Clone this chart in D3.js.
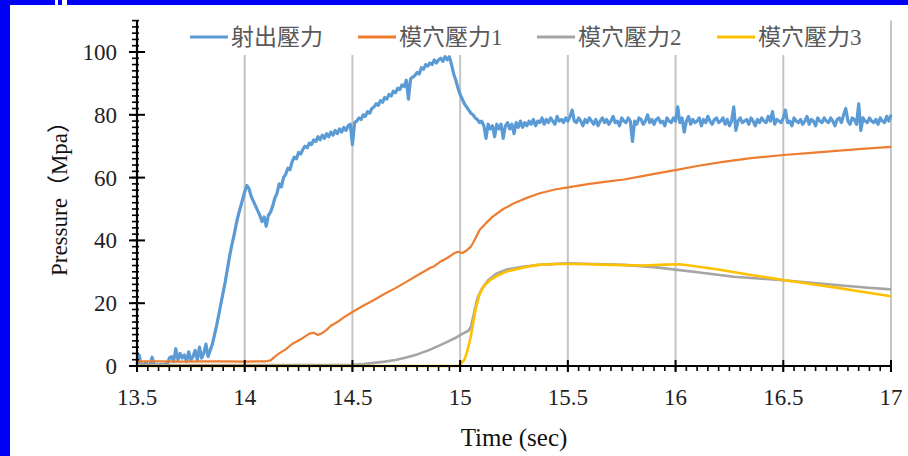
<!DOCTYPE html>
<html>
<head>
<meta charset="utf-8">
<script src="https://cdn.jsdelivr.net/npm/d3@7"></script>
<style>
  html, body { margin: 0; padding: 0; background: #fff; }
  svg { display: block; }
</style>
</head>
<body>
<div id="chart"></div>
<script>
const width = 908;
const height = 456;

// Series names (legend order)
const seriesNames = ["射出壓力", "模穴壓力1", "模穴壓力2", "模穴壓力3"];
const seriesColors = ["#5B9BD5", "#ED7D31", "#A5A5A5", "#FFC000"];

// Injection pressure, sampled every 0.01 s from 13.5 s
const blueStart = 13.5;
const blueStep = 0.01;
const blueValues = [
  0.5, 3.5, 0.3, 0.2, 1.2, 0.3, 0.2, 2.8, 0.3, 0.4,       // 13.50
  0.3, 0.5, 0.3, 0.6, 0.4, 2.5, 3, 1.5, 5.5, 2,           // 13.60
  4, 2.5, 3.5, 1.5, 4.5, 2, 3, 5, 2, 6,                   // 13.70
  2.5, 4, 7, 3, 5, 7, 10, 13, 16.5, 20,                   // 13.80
  23.5, 27, 31, 35, 38.5, 41.5, 45, 48, 50.5, 53,         // 13.90
  55.5, 57.5, 56.5, 54, 52.5, 51, 49.5, 48, 46, 47.5,     // 14.00
  44.5, 48, 49, 51, 53.5, 55, 58, 57, 60, 61,             // 14.10
  63, 62.5, 65, 66.5, 66, 68, 67.5, 69, 70, 69.5,         // 14.20
  71, 70.5, 72, 71.5, 73, 72, 73.5, 72.5, 74, 73,         // 14.30
  74.5, 73.5, 75, 74, 75.5, 74.5, 76, 75, 76.5, 77,       // 14.40
  70.5, 77.5, 78, 79, 78.5, 80, 79.5, 81, 80.5, 82,       // 14.50
  82.5, 83.5, 83, 84.5, 84, 85.5, 85, 86.5, 86, 87.5,     // 14.60
  87, 88.5, 88, 89.5, 89, 91, 85, 91.5, 92, 92.5,         // 14.70
  93.5, 93, 95, 94.5, 96, 95.5, 96.5, 96, 97.5, 96.5,     // 14.80
  97.5, 98, 97, 98.5, 97.5, 98.5, 96, 93, 91, 88.5,       // 14.90
  86.5, 85, 83.5, 82.5, 81.5, 80.5, 80, 79, 78.5, 77.5,   // 15.00
  78, 76.5, 72.5, 77, 75.5, 76.5, 73, 77, 75.5, 77,       // 15.10
  72.5, 76.5, 77.5, 75.5, 77, 74, 77.5, 76, 78, 76,       // 15.20
  77.5, 76.5, 78, 77, 78.5, 76.5, 78, 77.5, 79, 77,       // 15.30
  78.5, 77.5, 79, 78, 77, 79.5, 78, 78.5, 77.5, 79,       // 15.40
  78, 79.5, 81.5, 78, 77.5, 79, 78, 76.5, 78.5, 77.5,     // 15.50
  79, 78, 77, 78.5, 76.5, 78, 79, 77.5, 78.5, 77,         // 15.60
  78, 79.5, 77.5, 78, 76.5, 79, 78, 77.5, 79, 78,         // 15.70
  71.5, 78, 77, 79, 78.5, 77, 78, 80, 77.5, 78.5,         // 15.80
  77, 78.5, 79, 77.5, 78, 76.5, 79, 78, 77.5, 79,         // 15.90
  78, 82.5, 77.5, 79, 74.5, 78, 79.5, 77, 78.5, 77.5,     // 16.00
  78, 79, 76.5, 78.5, 77.5, 79.5, 78, 77, 78.5, 79,       // 16.10
  77.5, 78, 79, 77, 78.5, 76.5, 78, 82.5, 75, 78,         // 16.20
  79, 77.5, 78, 78.5, 77, 79, 78, 76.5, 78.5, 77.5,       // 16.30
  79, 78, 77.5, 79.5, 78, 81, 77, 78.5, 78, 77.5,         // 16.40
  79, 81.5, 77.5, 78, 76.5, 79, 78, 77.5, 78.5, 77,       // 16.50
  78, 79.5, 77, 78.5, 78, 76.5, 79, 78, 77.5, 79,         // 16.60
  78, 77.5, 79, 78, 76.5, 78.5, 79, 77.5, 80, 82,         // 16.70
  78, 77, 79, 78.5, 77, 83.5, 75, 79, 78, 77.5,           // 16.80
  79, 78, 77.5, 78.5, 77, 79, 78, 77.5, 79.5, 78,         // 16.90
  80                                                      // 17.00
];

// Cavity pressure 1: [time, MPa]
const cavity1 = [
  [13.5, 1.5], [13.6, 1.5], [13.7, 1.4], [13.8, 1.5], [13.9, 1.5], [14.0, 1.4], [14.1, 1.5],
  [14.12, 1.8], [14.14, 3], [14.16, 4], [14.19, 5.3], [14.22, 7], [14.26, 8.5], [14.3, 10.3],
  [14.32, 10.6], [14.34, 9.9], [14.36, 10.5], [14.38, 11.5], [14.4, 12.8], [14.43, 14],
  [14.46, 15.5], [14.5, 17.2], [14.55, 19.2], [14.6, 21], [14.65, 23], [14.7, 24.8],
  [14.75, 26.8], [14.8, 28.8], [14.83, 30], [14.86, 31.2], [14.88, 31.8], [14.91, 33.3],
  [14.94, 34.4], [14.97, 35.8], [14.99, 36.4], [15.01, 36], [15.03, 36.8], [15.05, 38],
  [15.07, 40.5], [15.09, 43.3], [15.12, 45.5], [15.15, 47.5], [15.2, 50], [15.25, 51.8],
  [15.3, 53.3], [15.37, 55], [15.44, 56.2], [15.5, 56.9], [15.6, 58], [15.68, 58.7],
  [15.76, 59.4], [15.84, 60.4], [15.92, 61.4], [16.0, 62.4], [16.1, 63.7], [16.22, 65],
  [16.35, 66.2], [16.5, 67.2], [16.63, 67.9], [16.76, 68.6], [16.88, 69.2], [17.0, 69.8]
];

// Cavity pressure 2
const cavity2 = [
  [13.5, 0.3], [14.0, 0.3], [14.5, 0.4], [14.55, 0.6], [14.6, 1], [14.65, 1.4], [14.7, 1.9],
  [14.75, 2.7], [14.8, 3.7], [14.85, 4.9], [14.9, 6.4], [14.94, 7.7], [14.98, 9], [15.01, 10.2],
  [15.04, 11.3], [15.05, 12.5], [15.06, 15.5], [15.07, 18.5], [15.08, 21.5], [15.1, 24.5],
  [15.13, 27.3], [15.17, 29.5], [15.22, 30.8], [15.29, 31.6], [15.38, 32.3], [15.5, 32.7],
  [15.62, 32.5], [15.76, 32.2], [15.9, 31.5], [16.0, 30.7], [16.13, 29.6], [16.27, 28.4],
  [16.4, 27.8], [16.5, 27.3], [16.63, 26.5], [16.76, 25.7], [16.88, 25], [17.0, 24.4]
];

// Cavity pressure 3
const cavity3 = [
  [13.5, 0], [14.0, 0], [14.5, 0], [14.99, 0], [15.0, 0.5], [15.02, 2], [15.03, 4],
  [15.045, 8], [15.055, 11.5], [15.065, 15.5], [15.075, 19], [15.09, 22.8], [15.11, 25.5],
  [15.14, 27.4], [15.18, 29], [15.22, 30.2], [15.29, 31.3], [15.36, 32.2], [15.45, 32.5],
  [15.55, 32.5], [15.7, 32.2], [15.85, 32], [15.95, 32.3], [16.02, 32.4], [16.1, 31.7],
  [16.22, 30.5], [16.35, 29], [16.5, 27.4], [16.62, 26.2], [16.76, 24.8], [16.88, 23.5],
  [17.0, 22.2]
];

// Axis ticks
const xTicks = [13.5, 14, 14.5, 15, 15.5, 16, 16.5, 17];
const xTickLabels = ["13.5", "14", "14.5", "15", "15.5", "16", "16.5", "17"];
const yTicks = [0, 20, 40, 60, 80, 100];
const yTickLabels = ["0", "20", "40", "60", "80", "100"];
const xTitle = "Time (sec)";
const yTitle = "Pressure（Mpa）";

const serif = "'Liberation Serif', 'Times New Roman', 'Noto Sans CJK TC', serif";

const svg = d3.select("#chart").append("svg")
    .attr("width", width)
    .attr("height", height);

// Frame decoration (blue strips at left and top)
svg.append("rect").attr("x", 0).attr("y", 0).attr("width", width).attr("height", 5).attr("fill", "#0000f4");
svg.append("rect").attr("x", 0).attr("y", 0).attr("width", 10).attr("height", height).attr("fill", "#0000f4");
svg.append("rect").attr("x", 55).attr("y", 0).attr("width", 3).attr("height", 5).attr("fill", "#fff");
svg.append("rect").attr("x", 62).attr("y", 0).attr("width", 5).attr("height", 5).attr("fill", "#fff");

const x = d3.scaleLinear().domain([13.5, 17]).range([137, 891]);
const y = d3.scaleLinear().domain([0, 110]).range([366, 20.6]);

// Vertical gridlines
svg.append("g")
  .selectAll("line")
  .data(xTicks.slice(1))
  .enter()
  .append("line")
  .attr("x1", d => x(d)).attr("x2", d => x(d))
  .attr("y1", y(110)).attr("y2", y(0))
  .attr("stroke", "#c4c4c4")
  .attr("stroke-width", 2);

// Lines
const line = d3.line().x(d => x(d[0])).y(d => y(d[1]));
const bluePoints = blueValues.map((v, i) => [blueStart + i * blueStep, v]);
const allSeries = [bluePoints, cavity1, cavity2, cavity3];
const widths = [3.2, 2.2, 2.6, 2.6];

svg.append("g")
  .selectAll("path")
  .data(allSeries)
  .enter()
  .append("path")
  .attr("d", line)
  .attr("fill", "none")
  .attr("stroke", (d, i) => seriesColors[i])
  .attr("stroke-width", (d, i) => widths[i])
  .attr("stroke-linejoin", "round");

// Minor ticks
const xMinor = d3.range(0, 71).map(i => 13.5 + i * 0.05);
const yMinor = d3.range(0, 56).map(i => i * 2);

const axes = svg.append("g").attr("stroke", "#000");
axes.selectAll(".xm").data(xMinor).enter().append("line")
  .attr("x1", d => x(d)).attr("x2", d => x(d))
  .attr("y1", y(0)).attr("y2", y(0) + 5)
  .attr("stroke-width", 1.6);
axes.selectAll(".ym").data(yMinor).enter().append("line")
  .attr("x1", x(13.5) - 5).attr("x2", x(13.5) + 2)
  .attr("y1", d => y(d)).attr("y2", d => y(d))
  .attr("stroke-width", 1.6);

// Major ticks
axes.selectAll(".xM").data(xTicks).enter().append("line")
  .attr("x1", d => x(d)).attr("x2", d => x(d))
  .attr("y1", y(0) - 6).attr("y2", y(0) + 6)
  .attr("stroke-width", 2);
axes.selectAll(".yM").data(yTicks).enter().append("line")
  .attr("x1", x(13.5) - 8).attr("x2", x(13.5) + 8)
  .attr("y1", d => y(d)).attr("y2", d => y(d))
  .attr("stroke-width", 2);

// Axis lines
axes.append("line")
  .attr("x1", x(13.5)).attr("x2", x(17))
  .attr("y1", y(0)).attr("y2", y(0))
  .attr("stroke-width", 2.2);
axes.append("line")
  .attr("x1", x(13.5)).attr("x2", x(13.5))
  .attr("y1", y(110)).attr("y2", y(0))
  .attr("stroke-width", 2.2);

// Tick labels
svg.append("g")
  .selectAll("text")
  .data(xTicks)
  .enter()
  .append("text")
  .attr("x", d => x(d))
  .attr("y", 405)
  .attr("text-anchor", "middle")
  .attr("font-family", serif)
  .attr("font-size", 23)
  .attr("fill", "#222")
  .text((d, i) => xTickLabels[i]);

svg.append("g")
  .selectAll("text")
  .data(yTicks)
  .enter()
  .append("text")
  .attr("x", 117)
  .attr("y", d => y(d) + 8)
  .attr("text-anchor", "end")
  .attr("font-family", serif)
  .attr("font-size", 23)
  .attr("fill", "#222")
  .text((d, i) => yTickLabels[i]);

// Axis titles
svg.append("text")
  .attr("x", 514)
  .attr("y", 446)
  .attr("text-anchor", "middle")
  .attr("font-family", serif)
  .attr("font-size", 25)
  .attr("fill", "#111")
  .text(xTitle);

svg.append("text")
  .attr("transform", "translate(67,193) rotate(-90)")
  .attr("text-anchor", "middle")
  .attr("font-family", serif)
  .attr("font-size", 23)
  .attr("fill", "#111")
  .text(yTitle);

// Legend
const legend = svg.append("g");
legend.append("rect")
  .attr("x", 182).attr("y", 19).attr("width", 694).attr("height", 36)
  .attr("fill", "#fff");
const legendX = [190, 358, 537, 717];
const items = legend.selectAll("g.item")
  .data(seriesNames)
  .enter()
  .append("g")
  .attr("transform", (d, i) => `translate(${legendX[i]},37)`);
items.append("line")
  .attr("x1", 0).attr("x2", 38)
  .attr("y1", 0).attr("y2", 0)
  .attr("stroke", (d, i) => seriesColors[i])
  .attr("stroke-width", 3);
items.append("text")
  .attr("x", 41)
  .attr("y", 8)
  .attr("font-family", serif)
  .attr("font-size", 23)
  .attr("fill", "#595959")
  .text(d => d);
</script>
</body>
</html>
